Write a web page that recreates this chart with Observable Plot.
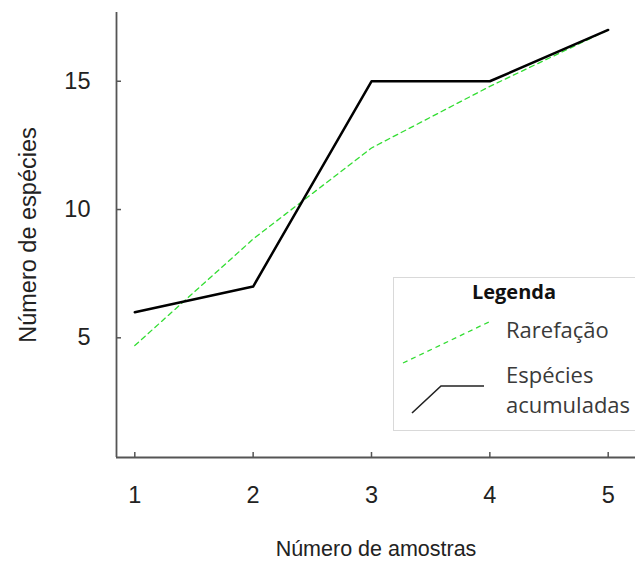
<!DOCTYPE html>
<html>
<head>
<meta charset="utf-8">
<script src="https://cdn.jsdelivr.net/npm/d3@7"></script>
<script src="https://cdn.jsdelivr.net/npm/@observablehq/plot@0.6"></script>
<style>
  html, body { margin: 0; padding: 0; background: #fff; }
  #wrap { position: relative; width: 635px; height: 564px; overflow: hidden; }
  #legend { position: absolute; left: 393px; top: 277px; width: 260px; height: 154px;
            border: 1px solid #d9d9d9; background: #fff; box-sizing: border-box; }
</style>
</head>
<body>
<div id="wrap"></div>
<script>
const amostras = [1, 2, 3, 4, 5];
const especiesAcumuladas = [6, 7, 15, 15, 17];
const rarefacao = [4.7, 8.85, 12.4, 14.8, 17.0];
const xTicks = [1, 2, 3, 4, 5];
const yTicks = [5, 10, 15];
const xTitle = "Número de amostras";
const yTitle = "Número de espécies";
const legendTitle = "Legenda";
const legendLabels = ["Rarefação", "Espécies", "acumuladas"];

const acc = amostras.map((a, i) => ({x: a, y: especiesAcumuladas[i]}));
const rar = amostras.map((a, i) => ({x: a, y: rarefacao[i]}));

const xDom = [0.8454, 5.2307];
const yDom = [0.335, 17.68];
const W = 635, H = 564, mL = 116, mR = 0, mT = 12, mB = 107;
const innerH = H - mT - mB;
const innerW = W - mL - mR;

const chart = Plot.plot({
  width: W, height: H,
  marginLeft: mL, marginRight: mR, marginTop: mT, marginBottom: mB,
  style: {background: "#fff", color: "#222", fontFamily: "'Liberation Sans', Arial, sans-serif", overflow: "visible"},
  x: {domain: xDom, axis: null},
  y: {domain: yDom, axis: null},
  marks: [
    Plot.axisX(xTicks, {tickSize: 0, tickPadding: 29, fontSize: 23.5, fill: "#222", label: null, tickFormat: d3.format("d")}),
    Plot.axisY(yTicks, {tickSize: 0, tickPadding: 26, fontSize: 23.5, fill: "#222", label: null, tickFormat: d3.format("d")}),
    Plot.tickX(xTicks, {x: d => d, insetTop: innerH - 5, stroke: "#555", strokeWidth: 1.5}),
    Plot.tickY(yTicks, {y: d => d, insetRight: innerW - 5, stroke: "#555", strokeWidth: 1.5}),
    Plot.ruleY([yDom[0]], {stroke: "#555", strokeWidth: 1.8}),
    Plot.ruleX([xDom[0]], {stroke: "#555", strokeWidth: 1.8}),
    Plot.line(rar, {x: "x", y: "y", stroke: "#33dd33", strokeWidth: 1.3, strokeDasharray: "5,4"}),
    Plot.line(acc, {x: "x", y: "y", stroke: "#000", strokeWidth: 2.5}),
    Plot.text([xTitle], {frameAnchor: "bottom", dy: 92, lineAnchor: "middle", textAnchor: "middle", fontSize: 21.5, fill: "#222"}),
    Plot.text([yTitle], {frameAnchor: "left", dx: -88, rotate: -90, textAnchor: "middle", lineAnchor: "middle", fontSize: 23.5, fill: "#222"})
  ]
});
const wrap = document.getElementById("wrap");
wrap.appendChild(chart);

const leg = document.createElement("div");
leg.id = "legend";
leg.innerHTML = `
<svg width="260" height="154" style="display:block">
  <g font-family="'Open Sans', sans-serif" fill="#3a3a3a">
    <text x="120" y="13" text-anchor="middle" dominant-baseline="central" font-weight="bold" font-size="20" fill="#111">${legendTitle}</text>
    <line x1="9" y1="85" x2="97" y2="43" stroke="#33dd33" stroke-width="1.3" stroke-dasharray="5,4"></line>
    <polyline points="18,135 47,108 90,108" fill="none" stroke="#222" stroke-width="1.6"></polyline>
    <text x="112" y="60" font-size="22">${legendLabels[0]}</text>
    <text x="112" y="105" font-size="22">${legendLabels[1]}</text>
    <text x="112" y="135" font-size="22">${legendLabels[2]}</text>
  </g>
</svg>`;
wrap.appendChild(leg);
</script>
</body>
</html>
